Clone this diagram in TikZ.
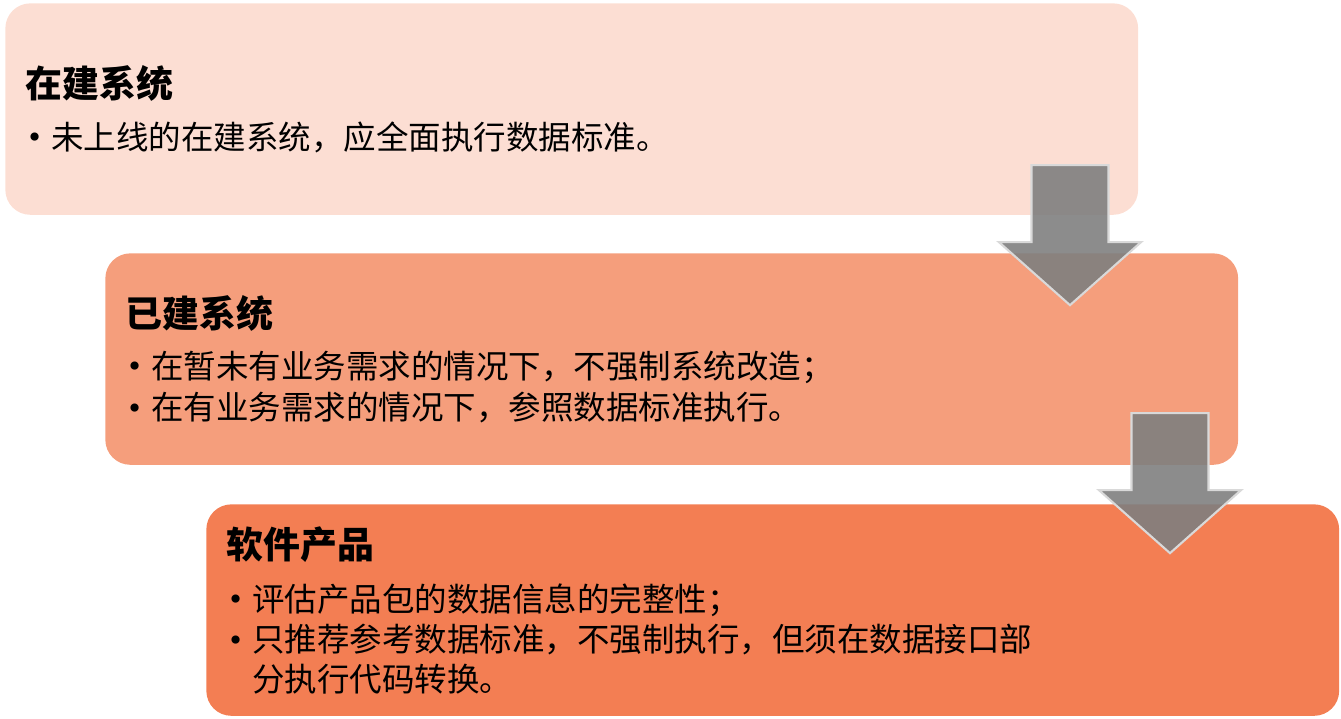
\documentclass[tikz,border=0pt]{standalone}
\usepackage{fontspec}
\newfontfamily\cjk{Noto Sans CJK SC}
\newfontfamily\bulfont{DejaVu Sans}
\usetikzlibrary{positioning}
\definecolor{boxa}{HTML}{FCDED3}
\definecolor{boxb}{HTML}{F59E7C}
\definecolor{boxc}{HTML}{F37E53}
\definecolor{arrowgray}{HTML}{7F7F7F}
\definecolor{arrowrim}{HTML}{D9D9D9}
\newcommand{\itembul}{\makebox[0.5cm][l]{\raisebox{1pt}{\bulfont\fontsize{16}{16}\selectfont •}}}
\newcommand{\flowdown}[1]{\draw[flowarrow] ([shift={(-38.5,0)}]#1) -- ++(77,0) -- ++(0,77)
  -- ++(32.5,0) -- ++(-71,63) -- ++(-71,-63) -- ++(32.5,0) -- cycle;}
\begin{document}
\begin{tikzpicture}[x=0.02cm, y=-0.02cm]
\tikzstyle{stagebox} = [rounded corners=0.5cm, minimum width=22.66cm, minimum height=4.23cm, anchor=north west, inner sep=0pt]
\tikzstyle{stagetitle} = [anchor=west, inner sep=0pt, font=\cjk\bfseries\fontsize{21}{25}\selectfont]
\tikzstyle{stageitem} = [anchor=west, inner sep=0pt, font=\cjk\fontsize{18.5}{22}\selectfont]
\tikzstyle{flowarrow} = [fill=arrowgray, fill opacity=0.9, draw=arrowrim, line width=1.2pt, line join=miter]
\useasboundingbox (0,0) rectangle (1341,719);
	\node[stagebox, fill=boxa] (sys1) at (5,3) {};
	\node[stagebox, fill=boxb] (sys2) at (105,253) {};
	\node[stagebox, fill=boxc] (sys3) at (206,504) {};
	\node[stagetitle] (title1) at ([shift={(20,80)}]sys1.north west) {在建系统};
	\node[stageitem] (item11) at ([shift={(1,54)}]title1.west) {\itembul 未上线的在建系统，应全面执行数据标准。};
	\node[stagetitle] (title2) at ([shift={(20,60)}]sys2.north west) {已建系统};
	\node[stageitem] (item21) at ([shift={(1,54)}]title2.west) {\itembul 在暂未有业务需求的情况下，不强制系统改造；};
	\node[stageitem] (item22) at ([shift={(0,41)}]item21.west) {\itembul 在有业务需求的情况下，参照数据标准执行。};
	\node[stagetitle] (title3) at ([shift={(20,41)}]sys3.north west) {软件产品};
	\node[stageitem] (item31) at ([shift={(1,55)}]title3.west) {\itembul 评估产品包的数据信息的完整性；};
	\node[stageitem] (item32) at ([shift={(0,40)}]item31.west) {\itembul 只推荐参考数据标准，不强制执行，但须在数据接口部};
	\node[stageitem] (item33) at ([shift={(0,39)}]item32.west) {\hspace*{0.5cm}分执行代码转换。};
	\coordinate (drop1) at ([shift={(-68.5,-50)}]sys1.south east);
	\coordinate (drop2) at ([shift={(-68.5,-52)}]sys2.south east);
	\flowdown{drop1}
	\flowdown{drop2}
\end{tikzpicture}
\end{document}
